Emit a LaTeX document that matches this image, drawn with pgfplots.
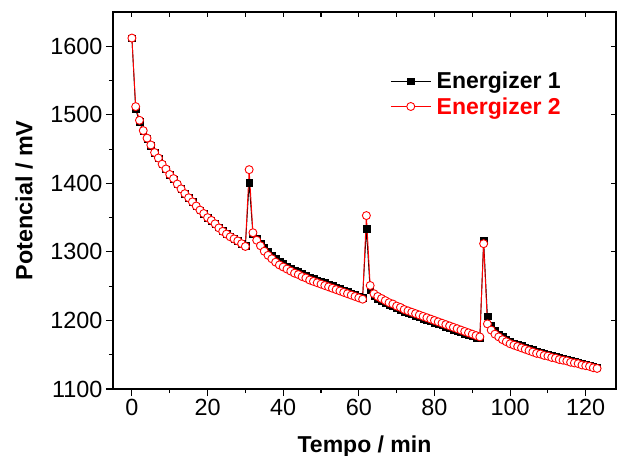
\documentclass[border=0pt]{standalone}
\usepackage{pgfplots}
\pgfplotsset{compat=1.18}
\usepackage{pgfplotstable}
\usepackage{fontspec}
\setmainfont{Liberation Sans}

\pgfplotstableread{
t e1 e2
0 1612 1612
1 1508 1512
2 1490 1492
3 1476 1477
4 1465 1466
5 1455 1456
6 1445 1445
7 1437 1437
8 1428 1428
9 1421 1421
10 1413 1413
11 1406 1407
12 1399 1399
13 1392 1392
14 1385 1385
15 1379 1379
16 1373 1373
17 1367 1367
18 1361 1361
19 1356 1356
20 1350 1350
21 1346 1346
22 1341 1341
23 1336 1335
24 1331 1330
25 1327 1326
26 1323 1322
27 1319 1319
28 1316 1316
29 1312 1312
30 1309 1308
31 1401 1420
32 1326 1328
33 1320 1317
34 1313 1309
35 1306 1301
36 1300 1295
37 1295 1290
38 1290 1285
39 1286 1281
40 1283 1278
41 1279 1275
42 1276 1272
43 1273 1269
44 1271 1267
45 1268 1264
46 1266 1262
47 1263 1259
48 1261 1257
49 1259 1255
50 1257 1253
51 1255 1251
52 1253 1249
53 1251 1247
54 1248 1245
55 1246 1243
56 1244 1241
57 1242 1239
58 1240 1237
59 1238 1235
60 1235 1233
61 1233 1231
62 1334 1353
63 1244 1251
64 1236 1239
65 1232 1235
66 1229 1232
67 1226 1229
68 1223 1226
69 1221 1224
70 1218 1221
71 1216 1219
72 1213 1216
73 1211 1214
74 1209 1212
75 1207 1210
76 1205 1208
77 1203 1206
78 1201 1204
79 1199 1202
80 1197 1200
81 1195 1198
82 1193 1196
83 1191 1194
84 1189 1192
85 1187 1190
86 1185 1188
87 1183 1186
88 1181 1184
89 1179 1182
90 1177 1180
91 1175 1178
92 1174 1176
93 1316 1312
94 1206 1195
95 1192 1186
96 1185 1180
97 1180 1176
98 1176 1172
99 1172 1169
100 1169 1166
101 1167 1164
102 1165 1162
103 1163 1160
104 1161 1158
105 1159 1156
106 1157 1154
107 1155 1152
108 1153 1151
109 1152 1149
110 1150 1148
111 1149 1146
112 1147 1145
113 1146 1143
114 1144 1142
115 1143 1141
116 1141 1139
117 1140 1138
118 1139 1137
119 1137 1135
120 1136 1134
121 1135 1133
122 1133 1131
123 1132 1130
}\datatable

\begin{document}
\begin{tikzpicture}
\useasboundingbox (-113bp,-67bp) rectangle (504bp,389bp);
\begin{axis}[
  name=main, at={(0,0)}, anchor=south west,
  scale only axis, width=503bp, height=377bp,
  xmin=-5, xmax=128, ymin=1100, ymax=1650,
  xtick={0,20,...,120}, ytick={1100,1200,...,1600},
  minor x tick num=1, minor y tick num=1,
  xtick pos=bottom, ytick pos=left,
  tick align=outside,
  major tick length=7bp, minor tick length=4bp,
  axis line style={line width=1.3bp},
  every tick/.style={line width=1.1bp, black},
  /pgf/number format/assume math mode=true,
  /pgf/number format/set thousands separator={},
  tick label style={font=\fontsize{23.4bp}{28bp}\selectfont},
  xlabel={Tempo / min}, ylabel={Potencial / mV},
  every axis x label/.style={at={(axis description cs:0.5,0)}, anchor=base, yshift=-63bp,
    font=\bfseries\fontsize{23bp}{28bp}\selectfont},
  every axis y label/.style={at={(axis description cs:-0.1604,0.5)}, anchor=base, rotate=90,
    font=\bfseries\fontsize{23.4bp}{28bp}\selectfont},
  legend style={draw=none, fill=none, at={(0.545,0.85)}, anchor=north west,
    font=\bfseries\fontsize{23bp}{26bp}\selectfont, row sep=4bp, column sep=4bp,
    nodes={inner sep=1.5bp}},
  legend cell align=left,
  legend image code/.code={\draw[mark repeat=2,mark phase=2] plot coordinates {(0bp,0bp) (20bp,0bp) (40bp,0bp)};},
]
\addplot[black, line width=0.9bp, mark=square*, mark size=3.3bp, mark options={fill=black, line width=0.3bp}] table[x=t, y=e1] {\datatable};
\addlegendentry{Energizer 1}
\addplot[red, line width=0.9bp, mark=*, mark size=4.0bp, mark options={draw=red, fill=white, line width=0.9bp}] table[x=t, y=e2] {\datatable};
\addlegendentry{\textcolor{red}{Energizer 2}}
\end{axis}
\begin{axis}[
  at={(0,0)}, anchor=south west,
  scale only axis, width=503bp, height=377bp,
  xmin=-5, xmax=128, ymin=1100, ymax=1650,
  xtick={0,10,...,120}, ytick={1100,1200,...,1600},
  xtick pos=top, ytick pos=right,
  xticklabels={}, yticklabels={},
  tick align=inside, major tick length=5.5bp,
  axis line style={line width=1.3bp},
  every tick/.style={line width=1.1bp, black},
]
\end{axis}
\end{tikzpicture}
\end{document}
